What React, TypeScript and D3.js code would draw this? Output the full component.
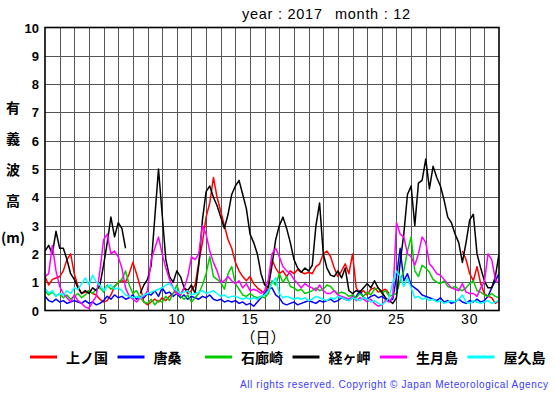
import React, { useEffect, useRef } from 'react';
import * as d3 from 'd3';

// significant wave height [m], Dec 2017, one value every 6 hours from day 1 00h to day 32 00h
const kaminokuni = [
  1.2, 0.9, 1.1, 1.15,
  1.2, 1.4, 1.8, 2.0,
  1.3, 0.85, 0.6, 0.65,
  0.7, 0.6, 0.55, 0.4,
  0.3, 0.35, 0.55, 0.85,
  1.0, 1.05, 1.0, 1.3,
  1.7, 1.3, 0.85, 0.3,
  0.2, 0.3, 0.4, 0.3,
  0.45, 0.35, 0.5, 0.6,
  0.7, 0.55, 0.8, 0.6,
  0.7, 0.9, 1.7, 2.4,
  3.3, 3.8, 4.7, 4.0,
  3.5, 3.0, 2.5, 2.2,
  1.7, 1.4, 1.2, 1.05,
  1.2, 0.95, 0.8, 0.7,
  0.6, 0.9, 1.8, 1.5,
  1.3, 1.4, 1.2, 1.4,
  1.3, 1.45, 1.35, 1.3,
  1.35, 1.3, 1.55, 1.65,
  2.0, 2.1, 1.9, 1.5,
  1.2, 1.4, 1.65, 1.3,
  2.0, 0.8, 0.6, 0.7,
  0.55, 0.75, 0.8, 0.65,
  0.7, 0.75, 0.6, null,
  null, null, null, null,
  null, null, null, null,
  null, null, null, null,
  null, null, null, null,
  null, null, 2.1, 1.8,
  1.3, 1.05, 1.55, 0.95,
  0.6, 0.5, 0.45, 0.25,
  0.35,
];

const karakuwa = [
  0.5, 0.35, 0.3, 0.4,
  0.3, 0.35, 0.25, 0.3,
  0.35, 0.3, 0.25, 0.35,
  0.25, 0.3, 0.2, 0.25,
  0.35, 0.5, 0.4, 0.55,
  0.45, 0.5, 0.4, 0.45,
  0.55, 0.4, 0.5, 0.45,
  0.6, 0.55, 0.7, 0.5,
  0.8, 0.6, 0.65, 0.5,
  0.6, 0.45, 0.55, 0.4,
  0.5, 0.45, 0.4, 0.5,
  0.45, 0.55, 0.4, 0.35,
  0.4, 0.3, 0.35, 0.3,
  0.35, 0.25, 0.3, 0.2,
  0.25, 0.15, 0.3, 0.45,
  0.6, 0.75, 0.8, 0.55,
  0.45, 0.25, 0.2, 0.25,
  0.3, 0.2, 0.25, 0.3,
  0.35, 0.3, 0.25, 0.35,
  0.3, 0.35, 0.4, 0.3,
  0.35, 0.45, 0.4, 0.35,
  0.45, 0.5, 0.7, 0.45,
  0.4, 0.5, 0.55, 0.45,
  0.5, 0.4, 0.35, 0.4,
  1.2, 2.2, 1.05, 1.3,
  0.9, 0.8, 0.7, 0.55,
  0.5, 0.45, 0.4, 0.35,
  0.45, 0.3, 0.35, 0.25,
  0.3, 0.4, 0.3, 0.25,
  0.35, 0.3, 0.4, 0.3,
  0.35, 0.5, 0.8, 1.05,
  1.3,
];

const irozaki = [
  0.7, 0.55, 0.65, 0.5,
  0.6, 0.45, 0.55, 0.4,
  0.5, 0.6, 0.45, 0.55,
  0.7, 0.6, 0.75, 0.8,
  0.65, 0.9, 0.75, 0.85,
  1.0, 1.1, 1.4, 0.9,
  0.6, 0.7, 0.45, 0.3,
  0.25, 0.4, 0.2, 0.35,
  0.3, 0.5, 0.35, 0.6,
  0.9, 0.5, 0.4, 0.55,
  0.3, 0.45, 0.6, 0.9,
  1.3, 1.9, 1.2, 1.1,
  1.0, 0.75, 1.3, 1.55,
  0.95, 0.75, 0.55, 0.5,
  0.6, 0.5, 0.45, 0.5,
  0.45, 0.6, 1.05, 0.9,
  1.3, 1.0, 1.2, 0.85,
  0.8, 0.7, 0.75, 0.6,
  0.65, 0.7, 0.8, 0.7,
  0.75, 0.9, 0.85, 0.7,
  0.6, 0.65, 0.6, 0.5,
  0.55, 0.45, 0.6, 0.5,
  0.65, 0.55, 0.75, 0.8,
  0.6, 0.7, 0.5, 0.55,
  0.6, 1.05, 1.4, 2.1,
  2.6, 1.4, 1.2, 1.6,
  1.5, 1.35, 1.1, 1.0,
  0.95, 1.05, 0.85, 0.8,
  0.85, 0.75, 0.7, 0.8,
  0.95, 1.05, 0.7, 0.65,
  0.55, 0.5, 0.6, 0.5,
  0.45,
];

const kyogamisaki = [
  2.1, 2.3, 2.0, 2.8,
  2.2, 2.2, 1.8, 1.3,
  1.1, 0.8, 0.6, 0.7,
  0.6, 0.8, 0.7, 0.9,
  1.6, 2.4, 3.3, 2.6,
  3.1, 2.9, 2.2, null,
  null, null, 0.6, 0.9,
  1.1, 1.6, 3.3, 5.0,
  3.4, 1.8, 1.2, 1.0,
  1.4, 1.2, 0.8, 0.7,
  0.9, 0.6, 1.6, 3.2,
  4.2, 4.4, 4.0, 3.7,
  3.3, 2.9, 3.4, 4.1,
  4.4, 4.6, 4.1, 3.6,
  2.7, 2.4, 2.0, 1.3,
  0.9, 0.8, 1.6, 2.5,
  3.0, 3.3, 2.9, 2.4,
  1.8, 1.5, 1.35, 1.5,
  1.4, 1.6, 3.0, 3.8,
  2.0, 1.5, 1.25, 1.2,
  1.4, 1.15, 1.5, 0.7,
  0.6, 0.7, 0.65, 0.8,
  0.95, 0.8, 1.05, 0.8,
  0.65, 0.45, 0.35, 0.25,
  0.45, 1.7, 2.7, 4.1,
  4.4, 3.0, 4.5, 4.6,
  5.35, 4.3, 5.1, 4.7,
  4.4, 3.9, 3.3, 3.1,
  2.7, 2.4, 1.7, 2.4,
  3.2, 3.4, 2.0, 1.5,
  1.05, 0.8, 0.8, 1.2,
  2.0,
];

const ikitsukishima = [
  1.2, 1.3, 2.3, 1.4,
  0.85, 0.6, 0.45, 0.3,
  0.55, 0.35, 0.25, 0.12,
  0.08, 0.3, 0.5, 1.4,
  2.5, 2.7, 2.0, 2.1,
  1.9, 1.5, 0.8, 0.5,
  0.4, 0.3, 0.45, 0.5,
  0.7, 1.8, 2.2, 2.6,
  2.0, 1.5, 1.1, 0.8,
  0.6, 0.55, 0.8, 1.2,
  1.9, 1.8, 2.0, 3.0,
  2.7, 2.1, 1.7, 1.4,
  1.0, 1.05, 1.2, 1.05,
  0.95, 1.05, 0.8, 0.95,
  0.7, 0.75, 0.7, 0.6,
  0.7, 1.1, 2.0, 2.2,
  1.9, 1.55, 1.4, 1.3,
  1.1, 0.95, 0.8, 0.95,
  0.85, 0.8, 0.7, 0.9,
  0.7, 0.6, 0.6, 0.7,
  0.55, 0.5, 0.45, 0.4,
  0.5, 0.35, 0.45, 0.4,
  0.3, 0.4, 0.25, 0.15,
  0.2, 0.35, 0.3, 0.5,
  3.1, 2.7, 2.6, 2.0,
  1.9, 1.6, 2.0, 2.6,
  2.4, 1.65, 1.5, 1.3,
  1.25, 1.1, 0.95, 0.8,
  0.75, 0.7, 0.95, 0.65,
  0.6, 0.6, 0.5, 0.8,
  1.0, 2.0, 1.8, 1.1,
  0.95,
];

const yakushima = [
  0.8, 0.6, 0.7, 0.5,
  0.6, 0.55, 0.7, 0.6,
  0.8, 0.75, 0.95, 1.15,
  0.9, 1.25, 1.0, 0.9,
  0.7, 0.85, 0.9, 0.75,
  0.8, 0.7, 0.55, 0.5,
  0.45, 0.5, 0.45, 0.55,
  0.6, 0.65, 0.7, 0.75,
  0.8, 0.9, 0.95, 0.8,
  0.7, 0.6, 0.65, 0.7,
  0.55, 0.6, 0.65, 0.7,
  0.6, 0.65, 0.7, 0.6,
  0.5, 0.55, 0.45, 0.5,
  0.5, 0.45, 0.4, 0.45,
  0.4, 0.45, 0.4, 0.5,
  0.55, 0.7, 0.95, 1.15,
  0.6, 0.45, 0.5, 0.45,
  0.4, 0.45, 0.4, 0.45,
  0.35, 0.4, 0.5, 0.45,
  0.4, 0.35, 0.45, 0.4,
  0.5, 0.45, 0.4, 0.35,
  0.45, 0.4, 0.35, 0.45,
  0.4, 0.3, 0.35, 0.25,
  0.2, 0.3, 0.45, 1.0,
  1.4, 1.2, 0.85, 1.15,
  0.8, 0.45, 0.5, 0.4,
  0.45, 0.35, 0.4, 0.3,
  0.35, 0.25, 0.3, 0.35,
  0.3, 0.4, 0.55, 0.3,
  0.25, 0.35, 0.3, 0.25,
  0.3, 0.35, 0.25, 0.3,
  0.35,
];

const stations = ['上ノ国', '唐桑', '石廊崎', '経ヶ岬', '生月島', '屋久島'];
const colors = ['#ff0000', '#0000ff', '#00cc00', '#000000', '#ff00ff', '#00ffff'];
const series = [kaminokuni, karakuwa, irozaki, kyogamisaki, ikitsukishima, yakushima];

const yTicks = [0, 1, 2, 3, 4, 5, 6, 7, 8, 9, 10];
const xTicks = [5, 10, 15, 20, 25, 30];
const yLabel = ['有', '義', '波', '高', '(m)'];

const FONT = '"Liberation Sans", Arial, sans-serif';
const CJK = '"Noto Sans CJK JP", sans-serif';

function WaveChart() {
  const svgRef = useRef<SVGSVGElement>(null);

  useEffect(() => {
    const svg = d3.select(svgRef.current);
    svg.selectAll('*').remove();

    const x = d3.scaleLinear().domain([1, 32]).range([45, 499]);
    const y = d3.scaleLinear().domain([0, 10]).range([310.5, 27.5]);

    svg.append('rect').attr('width', 555).attr('height', 395).attr('fill', '#fff');

    // grid: every day, every metre
    const grid = svg.append('g').attr('stroke', '#555').attr('stroke-width', 1);
    grid.selectAll('line.v')
      .data(d3.range(2, 32))
      .enter()
      .append('line')
      .attr('x1', d => Math.round(x(d)) + 0.5)
      .attr('x2', d => Math.round(x(d)) + 0.5)
      .attr('y1', y(10))
      .attr('y2', y(0));
    grid.selectAll('line.h')
      .data(yTicks.slice(1, -1))
      .enter()
      .append('line')
      .attr('x1', x(1))
      .attr('x2', x(32))
      .attr('y1', d => Math.round(y(d)) + 0.5)
      .attr('y2', d => Math.round(y(d)) + 0.5);

    svg.append('clipPath').attr('id', 'plot-clip')
      .append('rect')
      .attr('x', x(1)).attr('y', y(10))
      .attr('width', x(32) - x(1)).attr('height', y(0) - y(10));

    const line = d3.line<number | null>()
      .defined(d => d != null)
      .x((_, i) => x(1 + i * 0.25))
      .y(d => y(d as number));

    const lines = svg.append('g').attr('clip-path', 'url(#plot-clip)');
    series.forEach((s, i) => {
      lines.append('path')
        .datum(s)
        .attr('d', line)
        .attr('fill', 'none')
        .attr('stroke', colors[i])
        .attr('stroke-width', 1.5)
        .attr('stroke-linejoin', 'round');
    });

    svg.append('rect')
      .attr('x', x(1)).attr('y', y(10))
      .attr('width', x(32) - x(1)).attr('height', y(0) - y(10))
      .attr('fill', 'none').attr('stroke', '#000').attr('stroke-width', 1.6);

    svg.append('g').selectAll('text')
      .data(yTicks)
      .enter()
      .append('text')
      .attr('x', 39)
      .attr('y', d => y(d) + 5)
      .attr('text-anchor', 'end')
      .attr('font-family', FONT)
      .attr('font-weight', 'bold')
      .attr('font-size', 13)
      .text(d => d);

    svg.append('g').selectAll('text')
      .data(xTicks)
      .enter()
      .append('text')
      .attr('x', d => x(d))
      .attr('y', 324)
      .attr('text-anchor', 'middle')
      .attr('font-family', FONT)
      .attr('font-size', 14)
      .attr('letter-spacing', 0.8)
      .text(d => d);

    svg.append('g').selectAll('text')
      .data(yLabel)
      .enter()
      .append('text')
      .attr('x', 13)
      .attr('y', (d, i) => (i < 4 ? 113 + i * 31 : 243))
      .attr('text-anchor', 'middle')
      .attr('font-family', CJK)
      .attr('font-weight', 'bold')
      .attr('font-size', 14)
      .text(d => d);

    svg.append('text')
      .attr('x', 263).attr('y', 343)
      .attr('text-anchor', 'middle')
      .attr('font-family', CJK)
      .attr('font-size', 15)
      .text('（日）');

    // title: two runs, each fitted to the width it takes in the picture
    svg.append('text')
      .attr('x', 242).attr('y', 18.5)
      .attr('font-family', FONT)
      .attr('font-size', 14.5)
      .attr('textLength', 80)
      .attr('lengthAdjust', 'spacing')
      .text('year : 2017');
    svg.append('text')
      .attr('x', 335).attr('y', 18.5)
      .attr('font-family', FONT)
      .attr('font-size', 14.5)
      .attr('textLength', 75)
      .attr('lengthAdjust', 'spacing')
      .text('month : 12');

    const legend = svg.append('g');
    stations.forEach((name, i) => {
      const lx = 30 + i * 87.5;
      legend.append('line')
        .attr('x1', lx).attr('x2', lx + 27)
        .attr('y1', 357).attr('y2', 357)
        .attr('stroke', colors[i]).attr('stroke-width', 3);
      legend.append('text')
        .attr('x', lx + 36).attr('y', 362.5)
        .attr('font-family', CJK)
        .attr('font-weight', 'bold')
        .attr('font-size', 14)
        .text(name);
    });

    svg.append('text')
      .attr('x', 240).attr('y', 388)
      .attr('font-family', FONT)
      .attr('font-size', 10)
      .attr('fill', '#3a3aff')
      .attr('textLength', 308)
      .attr('lengthAdjust', 'spacing')
      .text('All rights reserved. Copyright © Japan Meteorological Agency');
  }, []);

  return (
    <svg ref={svgRef} width={555} height={395}
      style={{ position: 'absolute', left: 0, top: 0, display: 'block' }} />
  );
}

export default function App() {
  return <WaveChart />;
}
